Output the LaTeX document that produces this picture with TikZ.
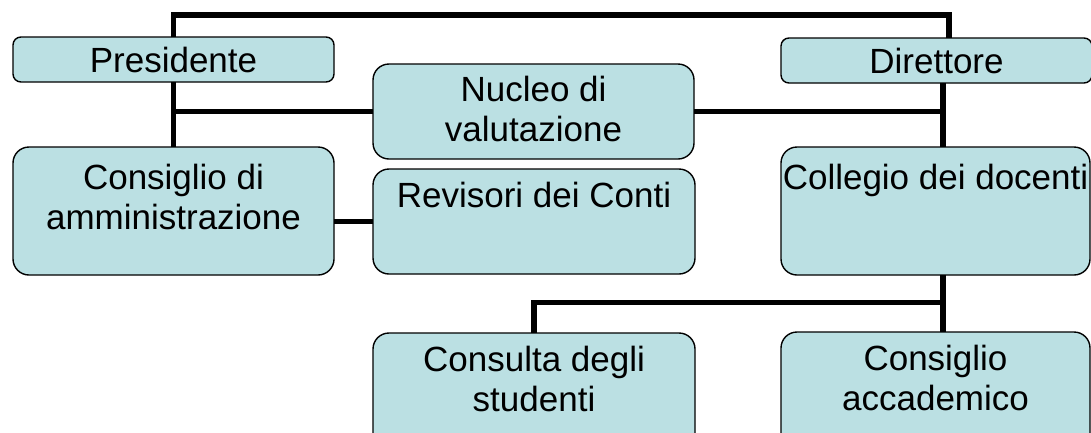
\documentclass[tikz,border=0pt]{standalone}
\usepackage{fontspec}
\setmainfont{Liberation Sans}
\definecolor{boxfill}{RGB}{187,224,227}
\begin{document}
\begin{tikzpicture}[x=1pt,y=-1pt,
  box/.style={draw=black, line width=1.4pt, fill=boxfill, rounded corners=#1, inner sep=0pt, outer sep=0pt},
  box/.default=16pt,
  lbl/.style={font=\fontsize{35}{40}\selectfont, align=center, inner sep=0pt, text=black},
  conn/.style={draw=black, line width=5.5pt}]
\useasboundingbox (0,0) rectangle (1091,432);
\clip (0,0) rectangle (1091,432);
\fill[white] (0,0) rectangle (1091,432);
% boxes
\node[box=8pt, minimum width=321pt, minimum height=45pt] (pres) at (173.5,59.5) {};
\node[box=8pt, minimum width=311pt, minimum height=45pt] (dir) at (936.5,60.5) {};
\node[box, minimum width=321pt, minimum height=95pt] (nuc) at (533.5,111.5) {};
\node[box, minimum width=321pt, minimum height=128pt] (cda) at (173.5,211) {};
\node[box, minimum width=322pt, minimum height=105pt] (rev) at (534,221.5) {};
\node[box, minimum width=309pt, minimum height=128pt] (col) at (935.5,211) {};
\node[box, minimum width=322pt, minimum height=127pt] (cons) at (534,396.5) {};
\node[box, minimum width=309pt, minimum height=128pt] (cacc) at (935.5,396) {};
% texts
\node[lbl] (tpres) at (pres.center) {Presidente};
\node[lbl] (tdir) at (dir.center) {Direttore};
\node[lbl, anchor=north] (tnuc) at ([yshift=-12pt]nuc.north) {Nucleo di\\valutazione};
\node[lbl, anchor=north] (tcda) at ([yshift=-17pt]cda.north) {Consiglio di\\amministrazione};
\node[lbl, anchor=north] (trev) at ([yshift=-13pt]rev.north) {Revisori dei Conti};
\node[lbl, anchor=north] (tcol) at ([yshift=-17pt]col.north) {Collegio dei docenti};
\node[lbl, anchor=north] (tcons) at ([yshift=-13pt]cons.north) {Consulta degli\\studenti};
\node[lbl, anchor=north] (tcacc) at ([yshift=-13pt]cacc.north) {Consiglio\\accademico};
% helper coordinates
\coordinate (tr) at (949,15);
\coordinate (dv) at (943,0);
\coordinate (bh) at (943,302.5);
% connectors
\draw[conn] (pres.north) |- (tr) -- (tr |- dir.north);
\draw[conn] (pres.south) -- (cda.north);
\draw[conn] (nuc.west) -- (nuc.west -| pres.south);
\draw[conn] (nuc.east) -- (nuc.east -| dv);
\draw[conn] (dir.south -| dv) -- (col.north -| dv);
\draw[conn] (rev.west) -- (rev.west -| cda.east);
\draw[conn] (col.south -| dv) -- (cacc.north -| dv);
\draw[conn] (bh) -| (cons.north);
\end{tikzpicture}
\end{document}
